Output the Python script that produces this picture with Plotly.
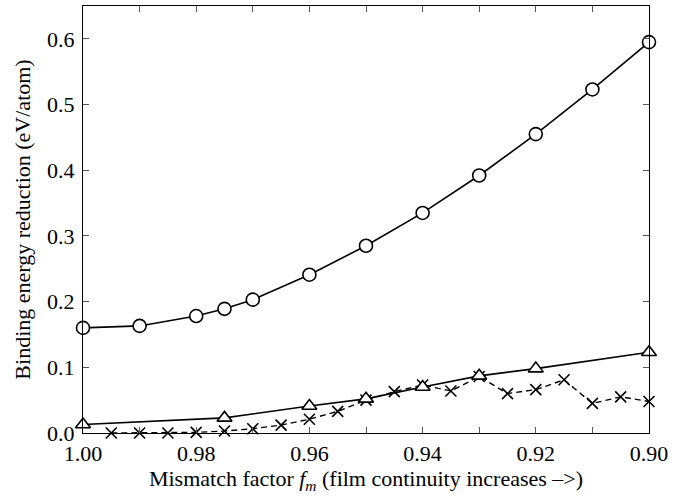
import plotly.graph_objects as go

# Data
circle_x = [1.00, 0.99, 0.98, 0.975, 0.97, 0.96, 0.95, 0.94, 0.93, 0.92, 0.91, 0.90]
circle_y = [0.160, 0.163, 0.178, 0.189, 0.203, 0.241, 0.285, 0.335, 0.392, 0.455, 0.523, 0.595]

tri_x = [1.00, 0.975, 0.96, 0.95, 0.94, 0.93, 0.92, 0.90]
tri_y = [0.013, 0.023, 0.041, 0.052, 0.070, 0.087, 0.098, 0.123]

cross_x = [0.995, 0.99, 0.985, 0.98, 0.975, 0.97, 0.965, 0.96, 0.955, 0.95, 0.945,
           0.94, 0.935, 0.93, 0.925, 0.92, 0.915, 0.91, 0.905, 0.90]
cross_y = [0.0, 0.0, 0.0, 0.001, 0.003, 0.0065, 0.012, 0.021, 0.033, 0.050, 0.063,
           0.073, 0.064, 0.086, 0.060, 0.066, 0.081, 0.045, 0.055, 0.048]

x_range = [1.00, 0.90]
y_range = [0.0, 0.65]

FONT = "Liberation Serif, Times New Roman, serif"

fig = go.Figure()

fig.add_trace(go.Scatter(
    x=cross_x, y=cross_y, mode="lines+markers",
    line=dict(color="black", width=1.4, dash="6px,4px"),
    marker=dict(symbol="x-thin-open", size=11, color="black",
                line=dict(color="black", width=1.6)),
    cliponaxis=False, showlegend=False))

fig.add_trace(go.Scatter(
    x=tri_x, y=tri_y, mode="lines+markers",
    line=dict(color="black", width=1.6),
    marker=dict(symbol="triangle-up", size=13, color="white",
                line=dict(color="black", width=1.6)),
    cliponaxis=False, showlegend=False))

fig.add_trace(go.Scatter(
    x=circle_x, y=circle_y, mode="lines+markers",
    line=dict(color="black", width=1.6),
    marker=dict(symbol="circle", size=13, color="white",
                line=dict(color="black", width=1.6)),
    cliponaxis=False, showlegend=False))

axis_common = dict(
    showgrid=False, zeroline=False, showline=True, linecolor="black", linewidth=1.3,
    mirror="allticks", ticks="inside", ticklen=6, tickcolor="#555", tickwidth=1,
    tickfont=dict(family=FONT, size=22, color="black"),
)

fig.update_xaxes(
    range=x_range, dtick=0.02, tick0=0.9, tickformat=".2f",
    minor=dict(dtick=0.01, ticks="inside", ticklen=6, tickcolor="#555", tickwidth=1),
    title=dict(text="Mismatch factor <i>f</i><sub><i>m</i></sub> (film continuity increases \u2013>)",
               font=dict(family=FONT, size=22, color="black"), standoff=6),
    **axis_common)

fig.update_yaxes(
    range=y_range, dtick=0.1, tick0=0, tickformat=".1f",
    ticklabelstandoff=3,
    title=dict(text="Binding energy reduction (eV/atom)",
               font=dict(family=FONT, size=22, color="black"), standoff=10),
    **axis_common)

fig.update_layout(
    width=673, height=497,
    margin=dict(l=83, r=22, t=5, b=64),
    plot_bgcolor="white", paper_bgcolor="white",
    font=dict(family=FONT, color="black"),
)

fig.write_html("out.html")
